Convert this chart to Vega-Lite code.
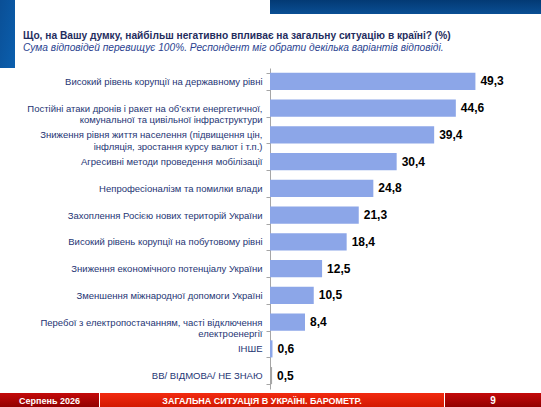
{
  "$schema": "https://vega.github.io/schema/vega-lite/v6.json",
  "padding": 0,
  "background": "white",
  "config": {
    "view": {"stroke": null},
    "font": "Liberation Sans",
    "locale": {"number": {"decimal": ",", "thousands": " ", "grouping": [3], "currency": ["", ""]}}
  },
  "datasets": {
    "answers": [
      {"label": "Високий рівень корупції на державному рівні", "value": 49.3},
      {"label": "Постійні атаки дронів і ракет на об’єкти енергетичної,|комунальної та цивільної інфраструктури", "value": 44.6},
      {"label": "Зниження рівня життя населення (підвищення цін,|інфляція, зростання курсу валют і т.п.)", "value": 39.4},
      {"label": "Агресивні методи проведення мобілізації", "value": 30.4},
      {"label": "Непрофесіоналізм та помилки влади", "value": 24.8},
      {"label": "Захоплення Росією нових територій України", "value": 21.3},
      {"label": "Високий рівень корупції на побутовому рівні", "value": 18.4},
      {"label": "Зниження економічного потенціалу України", "value": 12.5},
      {"label": "Зменшення міжнародної допомоги Україні", "value": 10.5},
      {"label": "Перебої з електропостачанням, часті відключення|електроенергії", "value": 8.4},
      {"label": "ІНШЕ", "value": 0.6},
      {"label": "ВВ/ ВІДМОВА/ НЕ ЗНАЮ", "value": 0.5}
    ],
    "one": [{"part": "band"}]
  },
  "spacing": 4,
  "vconcat": [
    {
      "spacing": 0,
      "hconcat": [
        {
          "width": 15,
          "height": 68,
          "data": {"name": "one"},
          "mark": {
            "type": "rect",
            "color": {
              "gradient": "linear", "x1": 0, "y1": 0, "x2": 1, "y2": 1,
              "stops": [{"offset": 0, "color": "#0a4f96"}, {"offset": 1, "color": "#0b5fae"}]
            }
          },
          "encoding": {}
        },
        {
          "spacing": 16,
          "vconcat": [
            {
              "width": 526,
              "height": 14,
              "data": {"name": "one"},
              "mark": {
                "type": "rect",
                "color": {
                  "gradient": "linear", "x1": 0, "y1": 0, "x2": 0, "y2": 1,
                  "stops": [{"offset": 0, "color": "#033a74"}, {"offset": 1, "color": "#0a4f94"}]
                }
              },
              "encoding": {}
            },
            {
              "width": 250,
              "height": 321,
              "data": {"name": "answers"},
              "title": {
                "text": "Що, на Вашу думку, найбільш негативно впливає на загальну ситуацію в країні? (%)",
                "subtitle": "Сума відповідей перевищує 100%. Респондент міг обрати декілька варіантів відповіді.",
                "anchor": "start",
                "frame": "bounds",
                "dx": 8,
                "offset": 10,
                "font": "Liberation Sans",
                "fontSize": 10.2,
                "fontWeight": "bold",
                "color": "#1f2d5e",
                "subtitleFont": "Liberation Sans",
                "subtitleFontSize": 10.2,
                "subtitleFontStyle": "italic",
                "subtitleColor": "#2a3f8f",
                "subtitlePadding": 2
              },
              "encoding": {
                "y": {
                  "field": "label",
                  "type": "nominal",
                  "sort": null,
                  "scale": {"paddingInner": 0.36, "paddingOuter": 0.18},
                  "axis": {
                    "title": null,
                    "domainColor": "#a6a6a6",
                    "tickColor": "#a6a6a6",
                    "tickSize": 4,
                    "tickBand": "extent",
                    "labelPadding": 4,
                    "labelColor": "#253574",
                    "labelFont": "Liberation Sans",
                    "labelFontSize": 9.5,
                    "labelLimit": 260,
                    "labelLineHeight": 11.5,
                    "labelExpr": "split(datum.label, '|')",
                    "minExtent": 255,
                    "maxExtent": 255
                  }
                },
                "x": {
                  "field": "value",
                  "type": "quantitative",
                  "scale": {"domain": [0, 60]},
                  "axis": null
                }
              },
              "layer": [
                {
                  "mark": {"type": "bar"},
                  "encoding": {
                    "color": {
                      "condition": {"test": "datum.label == 'ВВ/ ВІДМОВА/ НЕ ЗНАЮ'", "value": "#a6a6a6"},
                      "value": "#8ca6e8"
                    }
                  }
                },
                {
                  "mark": {
                    "type": "text",
                    "align": "left",
                    "baseline": "middle",
                    "dx": 5,
                    "font": "Liberation Sans",
                    "fontSize": 12,
                    "fontWeight": "bold",
                    "color": "black"
                  },
                  "encoding": {
                    "text": {"field": "value", "type": "quantitative", "format": ".1f"}
                  }
                }
              ]
            }
          ]
        }
      ]
    },
    {
      "spacing": 0,
      "vconcat": [
        {
          "spacing": 1,
          "hconcat": [
            {
              "width": 99,
              "height": 15,
              "data": {"values": [{"text": "Серпень 2026"}]},
              "layer": [
                {
                  "mark": {
                    "type": "rect",
                    "color": {
                      "gradient": "linear", "x1": 0, "y1": 0, "x2": 0, "y2": 1,
                      "stops": [{"offset": 0, "color": "#c40a0a"}, {"offset": 1, "color": "#8e0000"}]
                    }
                  },
                  "encoding": {}
                },
                {
                  "mark": {"type": "text", "color": "white", "fontWeight": "bold", "fontSize": 9, "baseline": "middle"},
                  "encoding": {"text": {"field": "text"}}
                }
              ]
            },
            {
              "width": 344,
              "height": 15,
              "data": {"values": [{"text": "ЗАГАЛЬНА СИТУАЦІЯ В УКРАЇНІ. БАРОМЕТР."}]},
              "layer": [
                {
                  "mark": {
                    "type": "rect",
                    "color": {
                      "gradient": "linear", "x1": 0, "y1": 0, "x2": 0, "y2": 1,
                      "stops": [{"offset": 0, "color": "#f22a10"}, {"offset": 1, "color": "#d01800"}]
                    }
                  },
                  "encoding": {}
                },
                {
                  "mark": {"type": "text", "color": "white", "fontWeight": "bold", "fontSize": 9, "baseline": "middle", "dx": -10},
                  "encoding": {"text": {"field": "text"}}
                }
              ]
            },
            {
              "width": 96,
              "height": 15,
              "data": {"values": [{"text": "9"}]},
              "layer": [
                {
                  "mark": {
                    "type": "rect",
                    "color": {
                      "gradient": "linear", "x1": 0, "y1": 0, "x2": 0, "y2": 1,
                      "stops": [{"offset": 0, "color": "#c40a0a"}, {"offset": 1, "color": "#8e0000"}]
                    }
                  },
                  "encoding": {}
                },
                {
                  "mark": {"type": "text", "color": "white", "fontWeight": "bold", "fontSize": 10, "baseline": "middle"},
                  "encoding": {"text": {"field": "text"}}
                }
              ]
            }
          ]
        },
        {
          "width": 541,
          "height": 2,
          "data": {"name": "one"},
          "mark": {"type": "rect", "color": "#3a3a3a"},
          "encoding": {}
        }
      ]
    }
  ]
}
